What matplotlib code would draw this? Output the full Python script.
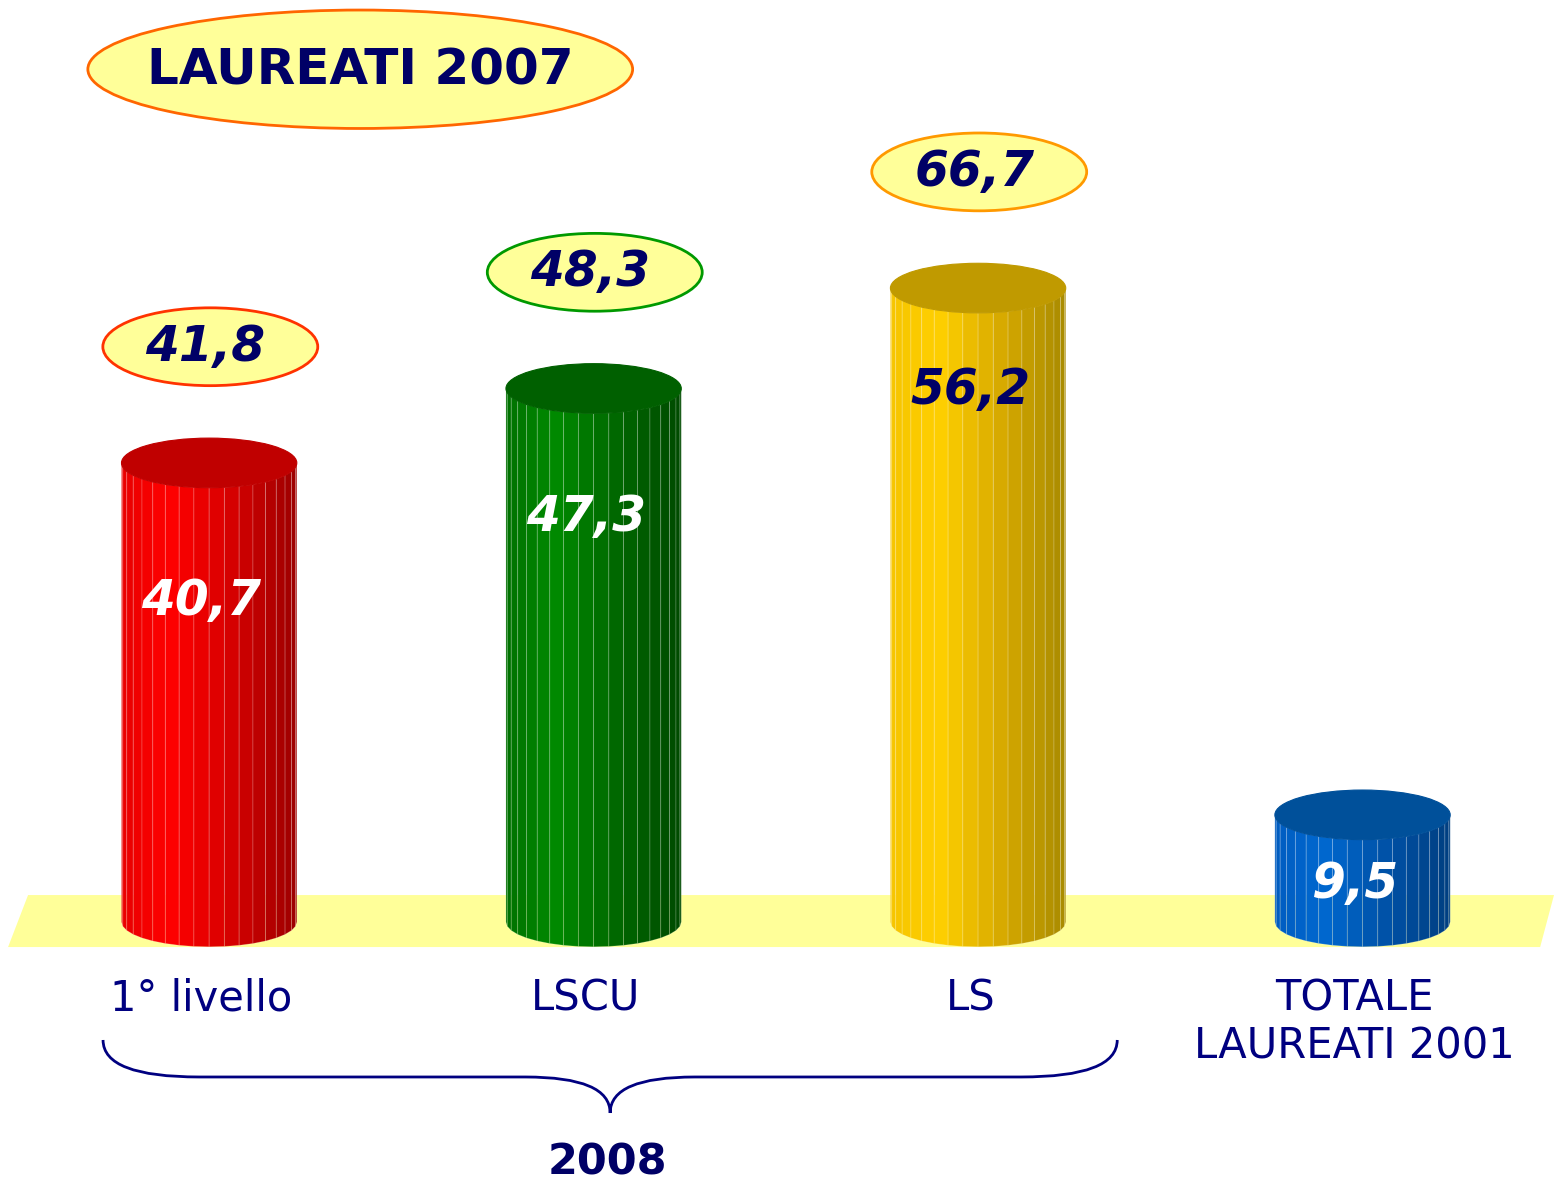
import numpy as np
import matplotlib
matplotlib.use("Agg")
from matplotlib import pyplot as plt
from matplotlib.patches import Ellipse, Polygon, PathPatch
from matplotlib.path import Path
from matplotlib.colors import to_rgb

# data
categories = ["1° livello", "LSCU", "LS", "TOTALE\nLAUREATI 2001"]
values_2007 = [40.7, 47.3, 56.2, 9.5]
values_2008 = [41.8, 48.3, 66.7]
labels_2007 = ["40,7", "47,3", "56,2", "9,5"]
labels_2008 = ["41,8", "48,3", "66,7"]

# style
body_colors = [
    ("#e80000", "#ff0000", "#d60000", "#9c0000"),
    ("#007000", "#008a00", "#006800", "#004a00"),
    ("#f5c400", "#ffd000", "#d8aa00", "#a88a00"),
    ("#005cc0", "#0068d0", "#0052a8", "#003e80"),
]
top_colors = ["#c00000", "#006000", "#c09a00", "#00509a"]
inner_text_colors = ["white", "white", "#000066", "white"]
inner_frac = [0.70, 0.76, 0.84, 0.35]
ring_colors = ["#ff3300", "#009900", "#ff9900"]
navy = "#000066"
floor_color = "#ffff99"

fig = plt.figure(figsize=(15.54, 11.82), dpi=100)
ax = fig.add_axes([0, 0, 1, 1])
ax.set_xlim(-0.544, 3.498)
ax.set_ylim(-23.05, 81.74)
ax.axis("off")

# yellow floor
ax.add_patch(Polygon([(-0.471, 2.39), (3.498, 2.39), (3.462, -2.22), (-0.523, -2.22)],
                     closed=True, facecolor=floor_color, edgecolor="none", zorder=1))

r = 0.228   # cylinder half width (x units)
e = 2.2     # ellipse half height (y units)
n_fac = 18


def shade(cols, u):
    stops = [-1.0, -0.45, 0.25, 1.0]
    rgb = [np.array(to_rgb(c)) for c in cols]
    for k in range(3):
        if u <= stops[k + 1]:
            t = (u - stops[k]) / (stops[k + 1] - stops[k])
            return tuple(rgb[k] * (1 - t) + rgb[k + 1] * t)
    return tuple(rgb[-1])


for i, v in enumerate(values_2007):
    cx = i
    th = np.linspace(np.pi, 0, n_fac + 1)
    xs = cx + r * np.cos(th)
    dy = e * np.sin(th)
    for k in range(n_fac):
        u = ((xs[k] + xs[k + 1]) / 2 - cx) / r
        poly = [(xs[k], -dy[k]), (xs[k + 1], -dy[k + 1]),
                (xs[k + 1], v - dy[k + 1]), (xs[k], v - dy[k])]
        ax.add_patch(Polygon(poly, closed=True, facecolor=shade(body_colors[i], u),
                             edgecolor=(1, 1, 1, 0.22), linewidth=0.6, zorder=3))
    ax.add_patch(Ellipse((cx, v), 2 * r, 2 * e, facecolor=top_colors[i],
                         edgecolor=top_colors[i], linewidth=0.8, zorder=4))
    ax.text(cx - 0.02, v * inner_frac[i], labels_2007[i], ha="center", va="center",
            fontsize=35, fontweight="bold", fontstyle="italic",
            color=inner_text_colors[i], zorder=5)
    ax.text(cx - 0.02, -4.9, categories[i], ha="center", va="top", fontsize=30,
            color="#000080", linespacing=1.2, zorder=5)

# 2008 values in ellipses above the bars
for i, v in enumerate(values_2007[:3]):
    y = v + 10.3
    ax.add_patch(Ellipse((i + 0.003, y), 0.559, 6.9, facecolor=floor_color,
                         edgecolor=ring_colors[i], linewidth=2, zorder=4))
    ax.text(i - 0.01, y, labels_2008[i], ha="center", va="center", fontsize=35,
            fontweight="bold", fontstyle="italic", color=navy, zorder=5)

# title
ax.add_patch(Ellipse((0.393, 75.6), 1.417, 10.5, facecolor=floor_color,
                     edgecolor="#ff6600", linewidth=2, zorder=4))
ax.text(0.393, 75.5, "LAUREATI 2007", ha="center", va="center", fontsize=36,
        fontweight="bold", color=navy, zorder=5)

# brace under the 2008 categories
x0, x1 = -0.276, 2.362
xc = (x0 + x1) / 2
yt, ym, yb = -10.46, -13.74, -16.93
verts = [(x0, yt), (x0, ym), (x0 + 0.25, ym),
         (xc - 0.22, ym), (xc, ym), (xc, yb),
         (xc, ym), (xc + 0.22, ym),
         (x1 - 0.25, ym), (x1, ym), (x1, yt)]
codes = [Path.MOVETO, Path.CURVE3, Path.CURVE3,
         Path.LINETO, Path.CURVE3, Path.CURVE3,
         Path.CURVE3, Path.CURVE3,
         Path.LINETO, Path.CURVE3, Path.CURVE3]
ax.add_patch(PathPatch(Path(verts, codes), facecolor="none", edgecolor="#000080",
                       linewidth=2, zorder=5))
ax.text(1.036, -21.3, "2008", ha="center", va="center", fontsize=31,
        fontweight="bold", color=navy, zorder=5)

fig.savefig("out.png", dpi=100)
